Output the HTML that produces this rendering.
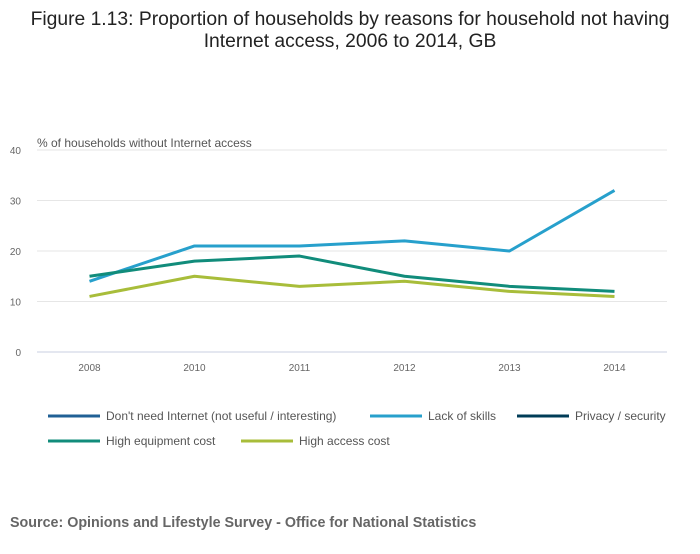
<!DOCTYPE html>
<html><head><meta charset="utf-8"><style>
body{margin:0;background:#fff;font-family:"Liberation Sans",sans-serif;}
svg text{font-family:"Liberation Sans",sans-serif;}
</style></head><body>
<svg id="chart" width="700" height="549">
<text x="350" y="25" text-anchor="middle" font-size="19.3" fill="#222">Figure 1.13: Proportion of households by reasons for household not having</text>
<text x="350" y="47" text-anchor="middle" font-size="19.3" fill="#222">Internet access, 2006 to 2014, GB</text>
<text x="37" y="147" font-size="12" fill="#555">% of households without Internet access</text>
<g id="grid"></g><g id="series"></g><g id="legend"></g>
<text x="10" y="527" font-size="14.3" font-weight="bold" fill="#666">Source: Opinions and Lifestyle Survey - Office for National Statistics</text>
</svg>
<script>
const categories=["2008","2010","2011","2012","2013","2014"];
const yTicks=[0,10,20,30,40];
const dontNeed=[null,null,null,null,null,null];
const lackSkills=[14,21,21,22,20,32];
const privacy=[null,null,null,null,null,null];
const equipCost=[15,18,19,15,13,12];
const accessCost=[11,15,13,14,12,11];
const NS="http://www.w3.org/2000/svg";
const L=37,R=667,T=150,B=352;
const band=(R-L)/categories.length;
const xs=i=>L+band*(i+0.5);
const ys=v=>B-(v/40)*(B-T);
function mk(tag,attrs,parent){const e=document.createElementNS(NS,tag);for(const k in attrs)e.setAttribute(k,attrs[k]);parent.appendChild(e);return e;}
const grid=document.getElementById('grid');
yTicks.forEach(t=>{
 const ln=mk('line',{x1:L,x2:R,y1:ys(t),y2:ys(t),stroke:t===0?'#c8cfe0':'#e6e6e6','stroke-width':1},grid);
 
 
 const tx=mk('text',{x:21,y:ys(t)+4,'text-anchor':'end','font-size':10,fill:'#666'},grid);
 tx.textContent=t;
 
 
});
categories.forEach((c,i)=>{
 const tx=mk('text',{x:xs(i),y:B+19,'text-anchor':'middle','font-size':10,fill:'#666'},grid);
 tx.textContent=c;
 
 
});
const seriesList=[
 {name:"Don't need Internet (not useful / interesting)",data:dontNeed,color:'#206095',key:'dont-need'},
 {name:'Lack of skills',data:lackSkills,color:'#27a0cc',key:'lack-of-skills'},
 {name:'Privacy / security',data:privacy,color:'#003c57',key:'privacy'},
 {name:'High equipment cost',data:equipCost,color:'#118c7b',key:'equipment-cost'},
 {name:'High access cost',data:accessCost,color:'#a8bd3a',key:'access-cost'}];
const sg=document.getElementById('series');
seriesList.forEach(s=>{
 const pts=s.data.map((v,i)=>v==null?null:xs(i)+','+ys(v)).filter(p=>p);
 if(pts.length){
  const p=mk('polyline',{points:pts.join(' '),fill:'none',stroke:s.color,'stroke-width':3,'stroke-linejoin':'round'},sg);
  
  
 }
});
const lg=document.getElementById('legend');
const lpos=[[48,416],[370,416],[517,416],[48,441],[241,441]];
seriesList.forEach((s,i)=>{
 const [x,y]=lpos[i];
 const g=mk('g',{},lg);
 
 
 mk('line',{x1:x,x2:x+52,y1:y,y2:y,stroke:s.color,'stroke-width':3},g);
 const t=mk('text',{x:x+58,y:y+4,'font-size':12,fill:'#555'},g);
 t.textContent=s.name;
});
</script>
</body></html>
